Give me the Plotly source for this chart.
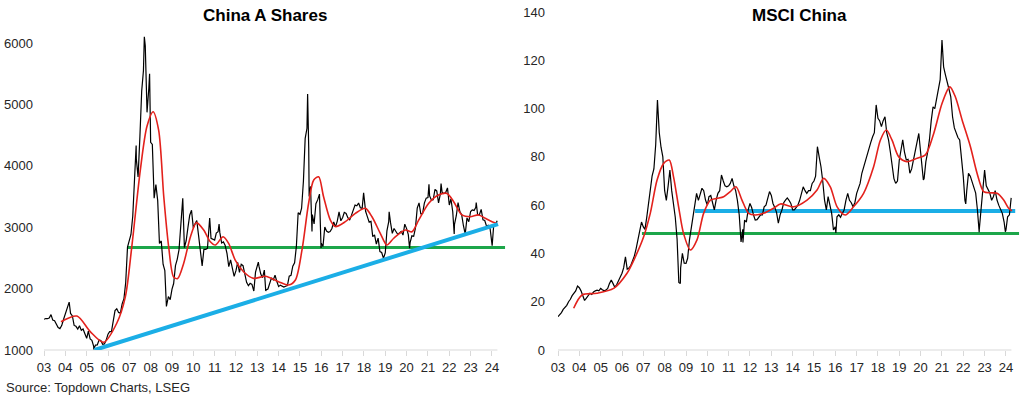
import pandas as pd
import plotly.graph_objects as go

# ---------------- data ----------------
# China A Shares, level at the start of each month, Feb 2003 .. May 2024
a_start = "2003-02-01"
a_vals = [
    1500, 1512, 1510, 1521, 1576, 1487, 1477, 1421, 1367, 1349, 1397,
    1497, 1590, 1675, 1742, 1595, 1555, 1400, 1386, 1342, 1396, 1320, 1341,
    1266, 1191, 1306, 1181, 1159, 1060, 1080, 1083, 1162, 1155, 1092, 1099,
    1161, 1258, 1299, 1298, 1440, 1641, 1672, 1612, 1601, 1752, 1837, 2099,
    2675, 2786, 2881, 3183, 3841, 4109, 3820, 4471, 5218, 5552, 5954, 4871,
    5262, 4383, 4348, 3473, 3693, 3433, 2736, 2776, 2397, 2293, 1729, 1871,
    1821, 1991, 2083, 2373, 2477, 2633, 2959, 3412, 2668, 2779, 2996, 3195,
    3277, 2989, 3051, 3109, 2871, 2592, 2398, 2638, 2639, 2656, 2979, 2820,
    2808, 2791, 2905, 2928, 2911, 2743, 2762, 2701, 2568, 2359, 2468, 2333,
    2199, 2292, 2428, 2263, 2397, 2373, 2225, 2103, 2047, 2086, 2069, 1980,
    2269, 2385, 2365, 2237, 2178, 2301, 1979, 1994, 2098, 2175, 2141, 2220,
    2116, 2033, 2056, 2033, 2026, 2039, 2048, 2202, 2217, 2364, 2420, 2683,
    3235, 3210, 3310, 3748, 4442, 4612, 4277, 3664, 3206, 3053, 3383, 3445,
    3539, 2738, 2688, 3004, 2938, 2917, 2930, 2979, 3085, 3005, 3100, 3250,
    3104, 3159, 3242, 3223, 3155, 3117, 3192, 3273, 3361, 3349, 3393, 3317,
    3307, 3481, 3259, 3169, 3082, 3095, 2847, 2876, 2725, 2821, 2603, 2588,
    2494, 2585, 2941, 3091, 3078, 2899, 2979, 2933, 2886, 2905, 2929, 2872,
    3050, 2977, 2880, 2750, 2860, 2852, 2985, 3310, 3396, 3218, 3225, 3392,
    3473, 3483, 3509, 3442, 3447, 3615, 3591, 3397, 3544, 3568, 3547, 3564,
    3640, 3361, 3462, 3252, 3047, 3187, 3399, 3253, 3202, 3024, 2893, 3151,
    3089, 3256, 3280, 3273, 3323, 3205, 3202, 3291, 3120, 3110, 3018, 3030,
    2975, 2789, 3015, 3041, 3105,
]
# intra-month extremes visible in the reference
a_extra_dates = [
    "2004-04-07", "2005-06-03", "2007-05-29", "2007-10-16", "2008-01-14",
    "2008-10-28", "2009-08-04", "2010-07-02", "2010-11-08", "2011-04-18",
    "2012-12-03", "2013-02-18", "2013-06-25", "2015-06-12", "2015-07-08",
    "2015-08-26", "2016-01-28", "2018-01-26", "2019-01-04", "2019-04-08",
    "2020-03-23", "2021-02-18", "2021-09-13", "2022-04-26", "2022-10-31",
    "2023-05-08", "2024-02-05",
]
a_extra_vals = [
    1780, 1010, 4330, 6100, 5500,
    1710, 3470, 2370, 3150, 3050,
    1960, 2430, 1960, 5170, 3500,
    2930, 2660, 3560, 2500, 3250,
    2660, 3700, 3710, 2890, 2890,
    3400, 2700,
]
# red moving average (decimal years, values)
a_ma_t = [2003.88, 2004.63, 2005.25, 2005.88, 2006.5, 2006.9, 2007.2, 2007.6,
          2007.91, 2008.2, 2008.46, 2008.7, 2008.93, 2009.16, 2009.35, 2009.63,
          2009.95, 2010.23, 2010.57, 2010.88, 2011.12, 2011.48, 2011.74, 2012.05,
          2012.44, 2012.91, 2013.46, 2014.08, 2014.55, 2014.87, 2015.18, 2015.49,
          2015.73, 2015.96, 2016.19, 2016.51, 2016.74, 2017.21, 2017.68, 2018.15,
          2018.46, 2018.85, 2019.16, 2019.48, 2020.02, 2020.34, 2020.65, 2021.12,
          2021.58, 2021.98, 2022.29, 2022.68, 2023.07, 2023.46, 2023.77, 2024.09,
          2024.32]
a_ma_v = [1461, 1553, 1300, 1125, 1440, 1870, 2680, 3930,
          4640, 4880, 4580, 3500, 2680, 2190, 2165, 2410,
          2845, 3075, 2955, 2764, 2710, 2845, 2737, 2465,
          2275, 2167, 2200, 2112, 2058, 2140, 2630, 3390,
          3770, 3820, 3500, 3115, 3010, 3090, 3225, 3307,
          3170, 2900, 2710, 2820, 2955, 2925, 3115, 3390,
          3525, 3550, 3415, 3200, 3170, 3200, 3145, 3090,
          3060]
a_green_level = 2670
a_green_span = [2007.0, 2024.70]
a_blue_t = [2005.45, 2024.37]
a_blue_v = [1000, 3050]

# MSCI China, level at the start of each month, Feb 2003 .. May 2024
m_start = "2003-02-01"
m_vals = [
    13.8, 14.5, 15.5, 16.8, 17.5, 18.5, 20.0, 21.0, 22.5, 23.8, 24.5,
    26.5, 25.8, 24.5, 22.0, 20.5, 21.5, 22.5, 23.5, 23.0, 24.0, 24.5, 24.8,
    24.5, 25.5, 25.0, 24.5, 24.8, 25.5, 27.5, 29.0, 27.5, 26.0, 27.0, 28.5,
    30.0, 31.8, 34.0, 38.6, 33.5, 34.0, 35.0, 37.0, 39.0, 42.0, 46.0, 50.0,
    53.0, 51.0, 50.0, 55.0, 60.0, 67.0, 72.0, 75.0, 85.0, 103.5, 90.0, 84.0,
    80.0, 66.0, 62.0, 68.0, 74.5, 66.0, 60.0, 55.0, 46.0, 28.0, 34.0, 40.0,
    36.0, 35.9, 38.0, 45.6, 50.0, 56.0, 60.7, 64.9, 62.0, 65.0, 67.0, 66.0,
    62.1, 60.0, 63.5, 64.0, 60.7, 58.0, 62.0, 64.9, 66.0, 72.5, 70.0, 68.0,
    67.6, 68.0, 69.0, 71.1, 68.0, 66.0, 62.0, 56.0, 44.8, 50.0, 53.8, 53.0,
    58.0, 60.7, 59.0, 56.0, 53.8, 54.0, 55.2, 56.0, 56.0, 59.3, 60.0, 63.0,
    65.6, 64.0, 60.7, 59.0, 57.0, 52.5, 56.0, 58.0, 61.0, 62.1, 63.0, 62.0,
    60.7, 58.0, 58.0, 59.0, 60.0, 62.0, 65.0, 67.6, 66.0, 64.9, 66.0, 66.0,
    69.0, 70.0, 72.0, 84.2, 80.0, 75.9, 70.0, 62.1, 58.0, 63.5, 60.0, 56.6,
    49.7, 51.0, 55.2, 56.0, 55.0, 56.6, 58.0, 62.0, 64.9, 62.0, 61.0, 59.3,
    61.0, 64.9, 67.0, 69.0, 73.2, 76.0, 78.0, 81.5, 84.0, 86.0, 88.3, 90.0,
    101.5, 96.0, 95.0, 92.5, 95.0, 96.6, 90.0, 87.0, 82.0, 75.9, 71.0, 69.0,
    70.0, 78.7, 83.0, 87.0, 82.0, 78.7, 79.0, 73.2, 75.0, 78.7, 82.0, 87.0,
    89.7, 82.0, 75.0, 71.0, 78.0, 82.0, 87.0, 95.0, 100.7, 100.0, 104.0, 107.7,
    112.0, 128.4, 117.3, 114.0, 110.4, 108.0, 105.0, 96.6, 92.0, 89.7, 88.0, 87.0,
    80.0, 71.8, 62.0, 66.0, 73.2, 72.0, 70.0, 67.6, 65.0, 58.0, 49.7, 58.0,
    66.0, 74.5, 68.0, 66.3, 65.0, 62.0, 63.5, 66.0, 62.1, 60.0, 58.0, 56.6,
    53.0, 49.7, 55.2, 56.0, 63.0,
]
m_extra_dates = ["2008-10-27", "2011-10-04", "2016-02-11", "2020-03-19",
                 "2022-03-15", "2022-10-31", "2024-01-22"]
m_extra_vals = [27.5, 44.5, 48.5, 70.4, 60.5, 48.8, 49.0]
m_ma_t = [2003.82, 2004.21, 2004.91, 2005.69, 2006.32, 2006.71, 2007.1, 2007.41,
          2007.73, 2008.04, 2008.3, 2008.5, 2008.74, 2008.97, 2009.29, 2009.6,
          2009.91, 2010.23, 2010.54, 2010.85, 2011.16, 2011.43, 2011.71, 2012.02,
          2012.34, 2012.72, 2013.19, 2013.51, 2014.13, 2014.76, 2015.23, 2015.54,
          2015.85, 2016.17, 2016.55, 2016.94, 2017.41, 2017.88, 2018.2, 2018.48,
          2018.74, 2019.06, 2019.45, 2019.92, 2020.31, 2020.7, 2021.09, 2021.45,
          2021.71, 2022.03, 2022.42, 2022.73, 2023.04, 2023.35, 2023.67, 2023.98,
          2024.21, 2024.37]
m_ma_v = [17.3, 22.8, 23.5, 25.5, 31.8, 38.6, 46.9, 56.6,
          70.4, 77.3, 78.7, 71.8, 59.3, 48.3, 41.4, 45.6,
          56.6, 62.1, 62.8, 63.5, 65.6, 67.6, 62.1, 56.6,
          55.9, 56.6, 58.7, 60.5, 59.3, 62.1, 66.3, 71.1,
          67.6, 59.3, 55.9, 59.3, 64.9, 75.9, 87.0, 91.1,
          87.0, 80.0, 78.0, 79.4, 80.8, 89.7, 102.2, 109.0,
          104.9, 95.3, 84.2, 73.2, 65.6, 65.1, 64.9, 62.1,
          58.7, 57.7]
m_green_level = 48.3
m_green_span = [2007.02, 2024.70]
m_blue_level = 57.6
m_blue_span = [2009.51, 2024.52]

year_labels = ["03", "04", "05", "06", "07", "08", "09", "10", "11", "12", "13",
               "14", "15", "16", "17", "18", "19", "20", "21", "22", "23", "24"]
titles = ["China A Shares", "MSCI China"]
source_text = "Source: Topdown Charts, LSEG"


# ---------------- helpers ----------------
def dec_to_date(t):
    y = int(t)
    return pd.Timestamp(y, 1, 1) + pd.Timedelta(days=(t - y) * 365.25)


def build_series(start, vals, extra_dates, extra_vals):
    base = pd.Series(vals, index=pd.date_range(start, periods=len(vals), freq="MS"))
    extra = pd.Series(extra_vals, index=pd.to_datetime(extra_dates))
    return pd.concat([base, extra]).sort_index()


a_s = build_series(a_start, a_vals, a_extra_dates, a_extra_vals)
m_s = build_series(m_start, m_vals, m_extra_dates, m_extra_vals)

BLACK = "#000000"
RED = "#E3211C"
GREEN = "#1DA64A"
BLUE = "#1BAEE6"
AXIS_GRAY = "#D9D9D9"
FONT = "Arial, Liberation Sans, sans-serif"
TXT = "#262626"

W, H = 1023, 399
# pixel geometry of the two plot areas
L1, R1 = 44, 506
L2, R2 = 558, 1020
x_range = [pd.Timestamp("2003-02-01"), dec_to_date(2003.085 + (R1 - L1) / 21.33)]
axis_end = pd.Timestamp("2024-05-05")
tickvals = [pd.Timestamp(2003 + i, 2, 1) for i in range(len(year_labels))]

fig = go.Figure()

# ---- left chart
fig.add_trace(go.Scatter(x=[dec_to_date(a_green_span[0]), dec_to_date(a_green_span[1])],
                         y=[a_green_level, a_green_level], mode="lines",
                         line=dict(color=GREEN, width=3), xaxis="x", yaxis="y"))
fig.add_trace(go.Scatter(x=a_s.index, y=a_s.values, mode="lines",
                         line=dict(color=BLACK, width=1.2), xaxis="x", yaxis="y"))
fig.add_trace(go.Scatter(x=[dec_to_date(t) for t in a_ma_t], y=a_ma_v, mode="lines",
                         line=dict(color=RED, width=1.6, shape="spline", smoothing=0.8),
                         xaxis="x", yaxis="y"))
fig.add_trace(go.Scatter(x=[dec_to_date(t) for t in a_blue_t], y=a_blue_v, mode="lines",
                         line=dict(color=BLUE, width=4), xaxis="x", yaxis="y"))

# ---- right chart
fig.add_trace(go.Scatter(x=[dec_to_date(m_green_span[0]), dec_to_date(m_green_span[1])],
                         y=[m_green_level, m_green_level], mode="lines",
                         line=dict(color=GREEN, width=3), xaxis="x2", yaxis="y2"))
fig.add_trace(go.Scatter(x=[dec_to_date(m_blue_span[0]), dec_to_date(m_blue_span[1])],
                         y=[m_blue_level, m_blue_level], mode="lines",
                         line=dict(color=BLUE, width=4), xaxis="x2", yaxis="y2"))
fig.add_trace(go.Scatter(x=m_s.index, y=m_s.values, mode="lines",
                         line=dict(color=BLACK, width=1.2), xaxis="x2", yaxis="y2"))
fig.add_trace(go.Scatter(x=[dec_to_date(t) for t in m_ma_t], y=m_ma_v, mode="lines",
                         line=dict(color=RED, width=1.6, shape="spline", smoothing=0.8),
                         xaxis="x2", yaxis="y2"))

xaxis_common = dict(type="date", range=x_range, tickmode="array", tickvals=tickvals,
                    ticktext=year_labels, showgrid=False, zeroline=False, showline=False,
                    ticks="outside", ticklen=5, tickwidth=1, tickcolor=AXIS_GRAY,
                    tickfont=dict(family=FONT, size=13, color=TXT), automargin=False,
                    fixedrange=True)
yaxis_common = dict(showgrid=False, zeroline=False, showline=False, ticks="",
                    tickfont=dict(family=FONT, size=13, color=TXT), automargin=False,
                    fixedrange=True)

fig.update_layout(
    width=W, height=H,
    margin=dict(l=0, r=0, t=12, b=49),
    paper_bgcolor="white", plot_bgcolor="white",
    showlegend=False,
    hovermode=False,
    xaxis=dict(domain=[L1 / W, R1 / W], anchor="y", **xaxis_common),
    yaxis=dict(domain=[0, 1], anchor="x", range=[1000, 6505],
               tickvals=[1000, 2000, 3000, 4000, 5000, 6000], ticklabelstandoff=10,
               **yaxis_common),
    xaxis2=dict(domain=[L2 / W, R2 / W], anchor="y2", **xaxis_common),
    yaxis2=dict(domain=[0, 1], anchor="x2", range=[0, 140],
                tickvals=[0, 20, 40, 60, 80, 100, 120, 140], ticklabelstandoff=12,
                **yaxis_common),
    shapes=[
        dict(type="line", xref="x", yref="paper", x0=x_range[0], x1=axis_end,
             y0=0, y1=0, line=dict(color=AXIS_GRAY, width=1), layer="below"),
        dict(type="line", xref="x2", yref="paper", x0=x_range[0], x1=axis_end,
             y0=0, y1=0, line=dict(color=AXIS_GRAY, width=1), layer="below"),
    ],
    annotations=[
        dict(text="<b>%s</b>" % titles[0], xref="paper", yref="paper",
             x=265 / W, y=(350 - 15) / 338, xanchor="center", yanchor="middle",
             showarrow=False, font=dict(family=FONT, size=17, color="#000000")),
        dict(text="<b>%s</b>" % titles[1], xref="paper", yref="paper",
             x=799 / W, y=(350 - 15) / 338, xanchor="center", yanchor="middle",
             showarrow=False, font=dict(family=FONT, size=17, color="#000000")),
        dict(text=source_text, xref="paper", yref="paper",
             x=4 / W, y=(350 - 387) / 338, xanchor="left", yanchor="middle",
             showarrow=False, font=dict(family=FONT, size=13, color=TXT)),
    ],
)

# remove the browser's default 8px page margin so the figure sits at (0, 0)
fig.write_html("out.html",
               config={"displayModeBar": False, "staticPlot": True},
               post_script="document.body.style.margin='0';"
                           "document.body.style.overflow='hidden';")
